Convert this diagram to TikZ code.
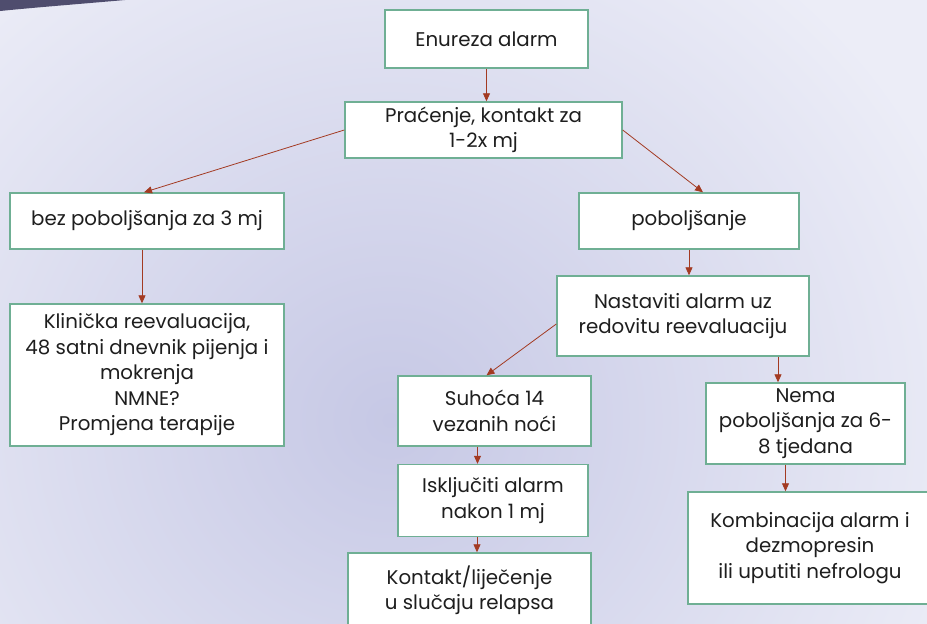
\documentclass[tikz,border=0pt]{standalone}
\usepackage{fontspec}
\setmainfont{Poppins}
\usetikzlibrary{arrows.meta}
\definecolor{bglight}{HTML}{ECEDF7}
\definecolor{bgmid}{HTML}{C6C8E5}
\definecolor{darkarc}{HTML}{4F4D6E}
\definecolor{boxline}{HTML}{6FAF94}
\definecolor{arrowc}{HTML}{A33A22}
\definecolor{txt}{HTML}{1E1E1E}
\tikzset{
  box/.style={draw=boxline, line width=1.4pt, fill=white, inner sep=0pt, align=center,
    text=txt, font=\fontsize{19.8}{25.5}\selectfont},
  conn/.style={draw=arrowc, line width=0.8pt, -{Triangle[length=8pt,width=7pt]}}
}
\begin{document}
\begin{tikzpicture}[x=1pt,y=-1pt]
\useasboundingbox (0,0) rectangle (927,624);
\begin{scope}
\clip (0,0) rectangle (927,624);
\fill[bglight] (0,0) rectangle (927,624);
\shade[inner color=bgmid, outer color=bglight] (-220,-160) rectangle (1000,1000);
\fill[darkarc] (0,0) -- (125,0) .. controls (80,4) and (40,7) .. (0,11) -- cycle;

\node[box, minimum width=203, minimum height=58] (enu) at (486.5,39) {Enureza alarm};
\node[box, minimum width=277, minimum height=56] (pra) at (483.5,130) {Praćenje, kontakt za\\1-2x mj};
\node[box, minimum width=274, minimum height=56] (bez) at (147,221) {bez poboljšanja za 3 mj};
\node[box, minimum width=274, minimum height=142] (kli) at (147,375) {Klinička reevaluacija,\\48 satni dnevnik pijenja i\\mokrenja\\NMNE?\\Promjena terapije};
\node[box, minimum width=220, minimum height=56] (pob) at (689,221) {poboljšanje};
\node[box, minimum width=252, minimum height=80] (nas) at (683,316) {Nastaviti alarm uz\\redovitu reevaluaciju};
\node[box, minimum width=193, minimum height=70] (suh) at (494.5,411) {Suhoća 14\\vezanih noći};
\node[box, minimum width=190, minimum height=72] (isk) at (493,500.5) {Isključiti alarm\\nakon 1 mj};
\node[box, minimum width=243, minimum height=74] (kon) at (469.5,590) {Kontakt/liječenje\\u slučaju relapsa};
\node[box, minimum width=199, minimum height=81] (nem) at (805.5,423.5) {Nema\\poboljšanja za 6-\\8 tjedana};
\node[box, minimum width=244, minimum height=112] (kom) at (810,548) {Kombinacija alarm i\\dezmopresin\\ili uputiti nefrologu};

\coordinate (s1) at (enu.south);
\coordinate (s2) at ([xshift=-5]bez.south);
\coordinate (s3) at (pob.south);
\coordinate (s4) at ([xshift=95]nas.south);
\coordinate (s5) at ([xshift=-17]suh.south);
\coordinate (s6) at ([xshift=-16]isk.south);
\coordinate (s7) at ([xshift=-20]nem.south);

\draw[conn] (s1) -- (s1 |- pra.north);
\draw[conn] (pra.west) -- ([xshift=-3]bez.north);
\draw[conn] (pra.east) -- ([xshift=14]pob.north);
\draw[conn] (s2) -- (s2 |- kli.north);
\draw[conn] (s3) -- (s3 |- nas.north);
\draw[conn] ([yshift=-8]nas.west) -- ([xshift=-8]suh.north);
\draw[conn] (s4) -- (s4 |- nem.north);
\draw[conn] (s5) -- (s5 |- isk.north);
\draw[conn] (s6) -- (s6 |- kon.north);
\draw[conn] (s7) -- (s7 |- kom.north);
\end{scope}
\end{tikzpicture}
\end{document}
